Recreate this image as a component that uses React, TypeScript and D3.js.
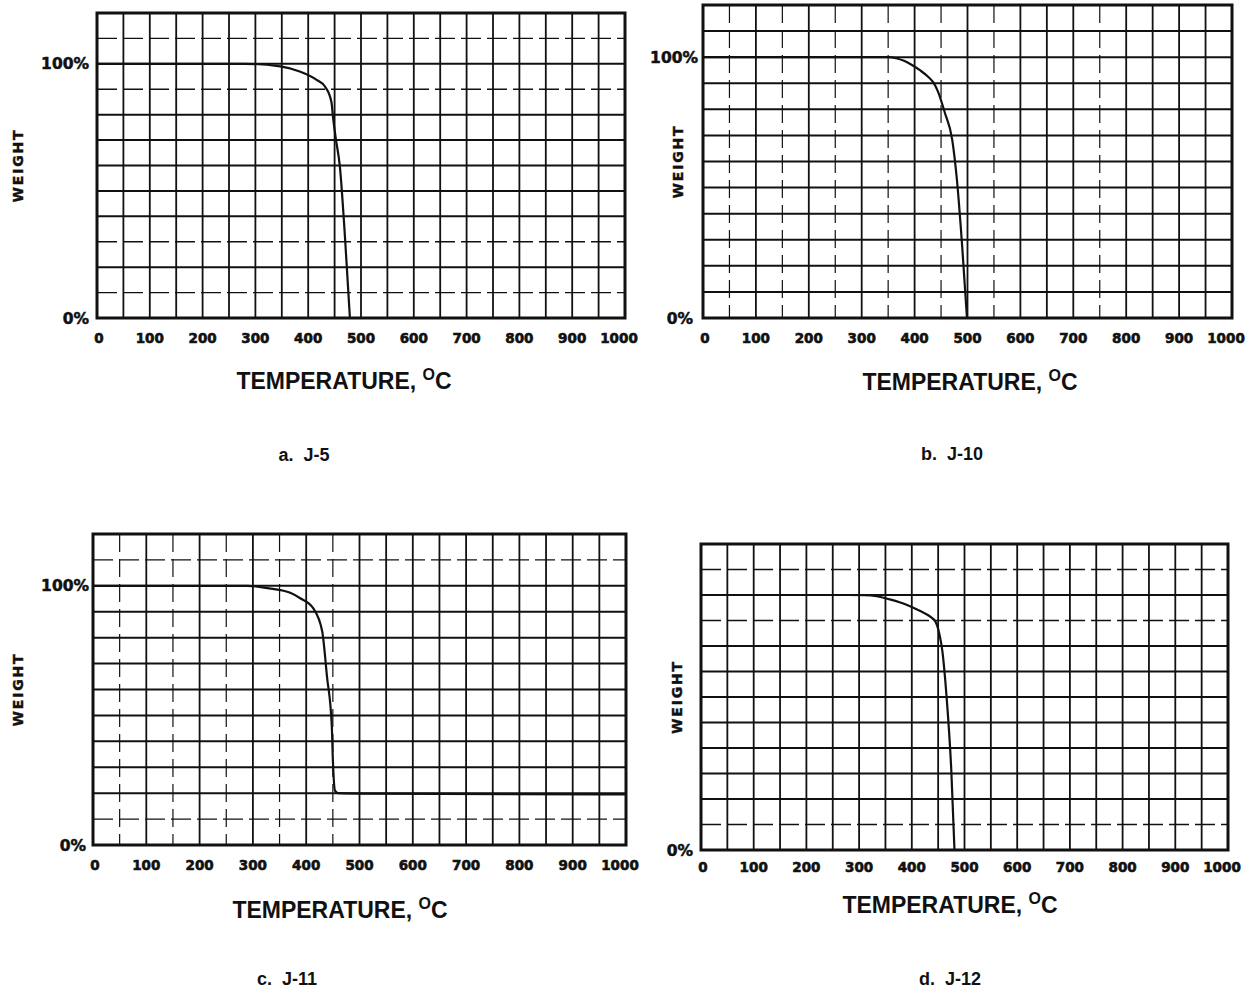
import React from 'react';
import * as d3 from 'd3';

// ---- data ----
const tempTicks = [0, 100, 200, 300, 400, 500, 600, 700, 800, 900, 1000];
const gridTemps = d3.range(0, 1001, 50);
const gridWeights = d3.range(0, 121, 10);

const tempJ5 = [0, 280, 347, 384, 416, 432, 444, 447, 452, 460, 470, 479];
const weightJ5 = [100, 100, 99, 97, 93.7, 91, 85, 79, 71, 59.6, 30.7, 0];

const tempJ10 = [0, 350, 365, 380, 395, 410, 425, 435, 444, 457, 471, 480, 490, 499];
const weightJ10 = [100, 100, 99.6, 98.6, 97, 95, 92.6, 90.4, 86.9, 78.8, 68.5, 53, 27.3, 0];

const tempJ11 = [0, 290, 330, 370, 388, 413, 430, 439, 448, 450, 454, 460, 520, 1000];
const weightJ11 = [100, 100, 99, 97.3, 95.3, 91.4, 82.5, 65, 46, 33, 21, 20, 19.8, 19.5];

const tempJ12 = [0, 280, 310, 333, 360, 390, 415, 435, 445, 452, 458, 466, 475, 481];
const weightJ12 = [100, 100, 99.9, 99.5, 98.2, 96.2, 93.8, 91.5, 89.5, 85, 78, 60, 31, 0];

const captions = ['a.  J-5', 'b.  J-10', 'c.  J-11', 'd.  J-12'];

// ---- layout ----
type Panel = {
  left: number; top: number; width: number; height: number;
  temps: number[]; weights: number[];
  caption: string;
  show100: boolean;
  weightLabelX: number; label100X: number; label0X: number;
  tickY: number; titleX: number; titleY: number; capX: number; capY: number;
  dashH: number[]; dashV: number[];
};

const panels: Panel[] = [
  { left: 97, top: 13, width: 528, height: 305, temps: tempJ5, weights: weightJ5, caption: captions[0], show100: true,
    weightLabelX: 18, label100X: 89, label0X: 89, tickY: 343, titleX: 344, titleY: 389, capX: 304, capY: 461,
    dashH: [110, 90, 30, 10], dashV: [] },
  { left: 703, top: 5, width: 529, height: 313, temps: tempJ10, weights: weightJ10, caption: captions[1], show100: true,
    weightLabelX: 678, label100X: 698, label0X: 693, tickY: 343, titleX: 970, titleY: 390, capX: 952, capY: 460,
    dashH: [], dashV: [50, 150, 250, 350, 450, 550, 750] },
  { left: 93, top: 534, width: 533, height: 311, temps: tempJ11, weights: weightJ11, caption: captions[2], show100: true,
    weightLabelX: 18, label100X: 89, label0X: 86, tickY: 870, titleX: 340, titleY: 918, capX: 287, capY: 985,
    dashH: [110, 10], dashV: [50, 150, 250, 350, 450] },
  { left: 701, top: 544, width: 527, height: 306, temps: tempJ12, weights: weightJ12, caption: captions[3], show100: false,
    weightLabelX: 677, label100X: 697, label0X: 693, tickY: 872, titleX: 950, titleY: 913, capX: 950, capY: 985,
    dashH: [110, 90, 10], dashV: [] },
];

const FONT = '"Liberation Sans", Arial, Helvetica, sans-serif';
const BOLDFONT = '"DejaVu Sans", "Liberation Sans", sans-serif';
const INK = '#111';

function PanelView({ p }: { p: Panel }) {
  const x = d3.scaleLinear().domain([0, 1000]).range([p.left, p.left + p.width]);
  const y = d3.scaleLinear().domain([0, 120]).range([p.top + p.height, p.top]);
  const line = d3.line<number>()
    .x((_, i) => x(p.temps[i]))
    .y((w) => y(w))
    .curve(d3.curveMonotoneX);
  const path = line(p.weights) || '';
  const midY = y(60);
  return (
    <g>
      {gridWeights.map((w) => {
        const dashed = p.dashH.includes(w);
        return (
          <line key={'h' + w} x1={p.left} x2={p.left + p.width} y1={y(w)} y2={y(w)}
            stroke={INK} strokeWidth={dashed ? 1.4 : 2}
            strokeDasharray={dashed ? '20 6' : undefined} />
        );
      })}
      {gridTemps.map((t) => {
        const dashed = p.dashV.includes(t);
        return (
          <line key={'v' + t} x1={x(t)} x2={x(t)} y1={p.top} y2={p.top + p.height}
            stroke={INK} strokeWidth={dashed ? 1.2 : 1.8}
            strokeDasharray={dashed ? '18 7' : undefined} />
        );
      })}
      <rect x={p.left} y={p.top} width={p.width} height={p.height} fill="none" stroke={INK} strokeWidth={3} />
      <path d={path} fill="none" stroke={INK} strokeWidth={2.2} strokeLinejoin="round" />
      {p.show100 && (
        <text x={p.label100X} y={y(100)} dy="0.36em" textAnchor="end" fontFamily={BOLDFONT} fontWeight="bold"
          fontSize={15.5} fill={INK} stroke={INK} strokeWidth={0.5}>100%</text>
      )}
      <text x={p.label0X} y={y(0)} dy="0.36em" textAnchor="end" fontFamily={BOLDFONT} fontWeight="bold"
        fontSize={15.5} fill={INK} stroke={INK} strokeWidth={0.5}>0%</text>
      <text transform={`translate(${p.weightLabelX},${midY}) rotate(-90)`} textAnchor="middle" dy="0.36em"
        fontFamily={BOLDFONT} fontWeight="bold" fontSize={14} letterSpacing={1.8} fill={INK}
        stroke={INK} strokeWidth={0.4}>WEIGHT</text>
      {tempTicks.map((t) => (
        <text key={'t' + t} x={x(t) - (t === 1000 ? 6 : 0) + (t === 0 ? 2 : 0)} y={p.tickY} textAnchor="middle"
          fontFamily={BOLDFONT} fontWeight="bold" fontSize={13.5} fill={INK} stroke={INK} strokeWidth={0.6}>
          {String(t)}
        </text>
      ))}
      <text x={p.titleX} y={p.titleY} textAnchor="middle" fontFamily={FONT} fontWeight="bold" fontSize={23} fill={INK}>
        TEMPERATURE,{' '}
        <tspan fontSize={16} dy={-9}>O</tspan>
        <tspan fontSize={23} dy={9}>C</tspan>
      </text>
      <text x={p.capX} y={p.capY} textAnchor="middle" fontFamily={FONT} fontWeight="bold" fontSize={18} fill={INK}
        xmlSpace="preserve" style={{ whiteSpace: 'pre' }}>{p.caption}</text>
    </g>
  );
}

export default function App() {
  return (
    <svg width={1245} height={991} viewBox="0 0 1245 991"
      style={{ position: 'absolute', left: 0, top: 0, display: 'block', background: '#fff' }}>
      <rect x={0} y={0} width={1245} height={991} fill="#fff" />
      {panels.map((p, i) => <PanelView key={i} p={p} />)}
    </svg>
  );
}
